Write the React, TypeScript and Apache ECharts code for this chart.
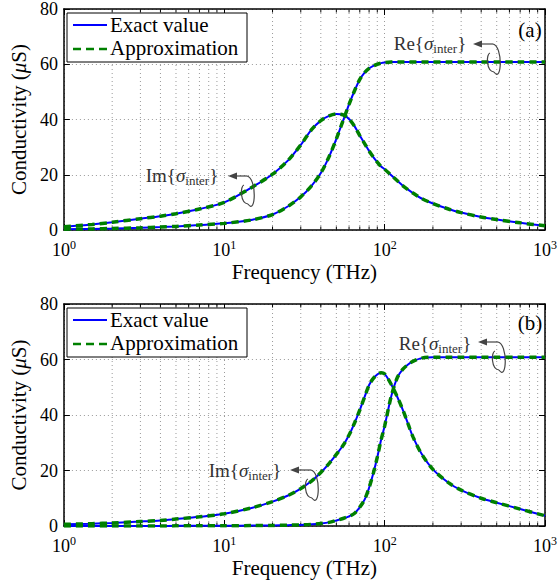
import React, { useEffect, useRef } from "react";
import * as echarts from "echarts";

const freqs = [1, 1.5, 2, 3, 4, 5, 7, 10, 15, 20, 25, 30, 35, 40, 45, 50, 55, 60, 65, 70, 75, 80, 85, 90, 95, 100, 110, 120, 130, 140, 150, 170, 200, 250, 300, 400, 500, 700, 1000];

// Panel (a)
const reA = [0.3, 0.4, 0.55, 0.8, 1.05, 1.3, 1.8, 2.4, 3.7, 5.6, 8.6, 12, 16, 20.6, 26.5, 33, 39.5, 45.5, 50.5, 54.5, 57, 58.5, 59.4, 60, 60.4, 60.6, 60.8, 60.8, 60.8, 60.8, 60.8, 60.8, 60.8, 60.8, 60.8, 60.8, 60.8, 60.8, 60.8];
const imA = [1.2, 2.0, 2.8, 4.1, 5.0, 5.9, 7.6, 10, 15.6, 20.2, 25.2, 30.8, 36.3, 39.6, 41.3, 42, 41.7, 40.2, 37.5, 34.2, 31.3, 28.6, 26.4, 24.6, 23, 22, 19.8, 17.8, 16, 14.6, 13.4, 11.4, 9.6, 7.6, 6.3, 4.7, 3.8, 2.6, 1.5];
// Panel (b)
const reB = [0, 0, 0, 0, 0, 0.05, 0.1, 0.1, 0.15, 0.2, 0.3, 0.4, 0.6, 0.9, 1.3, 2, 2.7, 3.5, 4.6, 6.8, 9.5, 13.8, 19, 24.8, 31, 36, 46.8, 53.5, 56.5, 58.2, 59.3, 60.5, 60.8, 60.8, 60.8, 60.8, 60.8, 60.8, 60.8];
const imB = [0.6, 0.85, 1.1, 1.6, 2.0, 2.5, 3.3, 4.4, 6.6, 8.8, 11, 13.5, 16.2, 19.3, 22.5, 25.8, 29, 32.8, 37.2, 41.8, 46.5, 50.8, 53.2, 54.6, 55.2, 54.8, 51, 46.5, 41.8, 36.8, 32.2, 26, 20.4, 15.6, 12.9, 10, 8.4, 6.1, 3.7];

// Approximation curves (visually coincide with exact values)
const reAapprox = reA;
const imAapprox = imA;
const reBapprox = reB;
const imBapprox = imB;

const minorFreqs = [2, 3, 4, 5, 6, 7, 8, 9, 20, 30, 40, 50, 60, 70, 80, 90, 200, 300, 400, 500, 600, 700, 800, 900];
const yTicks = { min: 0, max: 80, interval: 20 };
const legendNames = ["Exact value", "Approximation"];
const panelLabels = ["(a)", "(b)"];

const FONT = "Liberation Serif";
const BLUE = "#0000ff";
const GREEN = "#008000";
const GRIDC = "#9a9a9a";
const DASH = [7, 5];

function pair(ys: number[]) {
  return freqs.map((f, i) => [f, ys[i]]);
}

export default function App() {
  const ref = useRef<HTMLDivElement>(null);
  useEffect(() => {
    if (!ref.current) return;
    const chart = echarts.init(ref.current, undefined, { renderer: "svg" });

    const grids = [
      { left: 61, top: 8, width: 486, height: 222 },
      { left: 61, top: 304, width: 486, height: 222 },
    ];

    const xAxes: any[] = [];
    const yAxes: any[] = [];
    [0, 1].forEach((g) => {
      xAxes.push({
        type: "log",
        logBase: 10,
        gridIndex: g,
        min: 1,
        max: 1000,
        position: "bottom",
        axisLine: { show: true, onZero: false, lineStyle: { color: "#000", width: 1.5 } },
        axisTick: { show: true, inside: true, length: 6, lineStyle: { color: "#000" } },
        splitLine: { show: true, lineStyle: { color: GRIDC, type: [1, 3], width: 1 } },
        minorTick: { show: false },
        axisLabel: {
          color: "#000",
          fontFamily: FONT,
          fontSize: 18,
          lineHeight: 22,
          margin: 9,
          showMinLabel: true,
          showMaxLabel: true,
          formatter: (v: number) => "10{sup|" + Math.round(Math.log10(v)) + "}",
          rich: { sup: { fontSize: 12, fontFamily: FONT, color: "#000", verticalAlign: "top", lineHeight: 12 } },
        },
        name: "Frequency (THz)",
        nameLocation: "middle",
        nameGap: 27,
        nameTextStyle: { color: "#000", fontFamily: FONT, fontSize: 21 },
      });
      xAxes.push({
        type: "log",
        logBase: 10,
        gridIndex: g,
        min: 1,
        max: 1000,
        position: "top",
        axisLine: { show: true, onZero: false, lineStyle: { color: "#000", width: 1.5 } },
        axisTick: { show: true, inside: true, length: 6, lineStyle: { color: "#000" } },
        splitLine: { show: false },
        axisLabel: { show: false },
      });
      yAxes.push({
        type: "value",
        gridIndex: g,
        min: yTicks.min,
        max: yTicks.max,
        interval: yTicks.interval,
        position: "left",
        axisLine: { show: true, onZero: false, lineStyle: { color: "#000", width: 1.5 } },
        axisTick: { show: true, inside: true, length: 6, lineStyle: { color: "#000" } },
        splitLine: { show: true, lineStyle: { color: GRIDC, type: [1, 3], width: 1 } },
        axisLabel: { color: "#000", fontFamily: FONT, fontSize: 18, margin: 6 },
        name: "Conductivity ({i|μ}S)",
        nameLocation: "middle",
        nameRotate: 90,
        nameGap: 29,
        nameTextStyle: {
          color: "#000",
          fontFamily: FONT,
          fontSize: 21,
          rich: { i: { fontStyle: "italic", fontFamily: FONT, fontSize: 21, color: "#000" } },
        },
      });
      yAxes.push({
        type: "value",
        gridIndex: g,
        min: yTicks.min,
        max: yTicks.max,
        interval: yTicks.interval,
        position: "right",
        axisLine: { show: true, onZero: false, lineStyle: { color: "#000", width: 1.5 } },
        axisTick: { show: true, inside: true, length: 6, lineStyle: { color: "#000" } },
        splitLine: { show: false },
        axisLabel: { show: false },
      });
    });

    const minorSeries = (g: number) => ({
      type: "custom",
      name: "minor" + g,
      xAxisIndex: g * 2,
      yAxisIndex: g * 2,
      z: 1,
      silent: true,
      encode: { x: 0, y: 1 },
      data: minorFreqs.map((m) => [m, 0]),
      renderItem: (_p: any, api: any) => {
        const x = api.value(0);
        const b = api.coord([x, yTicks.min]);
        const t = api.coord([x, yTicks.max]);
        return {
          type: "group",
          children: [
            { type: "line", shape: { x1: b[0], y1: b[1], x2: t[0], y2: t[1] }, style: { stroke: GRIDC, lineWidth: 1, lineDash: [1, 3] } },
            { type: "line", shape: { x1: b[0], y1: b[1], x2: b[0], y2: b[1] - 3.5 }, style: { stroke: "#000", lineWidth: 1 } },
            { type: "line", shape: { x1: t[0], y1: t[1], x2: t[0], y2: t[1] + 3.5 }, style: { stroke: "#000", lineWidth: 1 } },
          ],
        };
      },
    });

    const exact = (g: number, ys: number[]) => ({
      type: "line",
      name: legendNames[0],
      xAxisIndex: g * 2,
      yAxisIndex: g * 2,
      data: pair(ys),
      symbol: "none",
      smooth: 0.3,
      z: 3,
      lineStyle: { color: BLUE, width: 2 },
      itemStyle: { color: BLUE },
    });
    const approx = (g: number, ys: number[]) => ({
      type: "line",
      name: legendNames[1],
      xAxisIndex: g * 2,
      yAxisIndex: g * 2,
      data: pair(ys),
      symbol: "none",
      smooth: 0.3,
      z: 4,
      lineStyle: { color: GREEN, width: 3.5, type: DASH },
      itemStyle: { color: GREEN },
    });

    // legend box drawn as graphic (box, sample lines and real text)
    const legendBox = (top: number) => [
      { type: "rect", z: 90, shape: { x: 67, y: top, width: 180, height: 49 }, style: { fill: "#fff", stroke: "#000", lineWidth: 1 } },
      { type: "line", z: 91, shape: { x1: 73, y1: top + 12, x2: 107, y2: top + 12 }, style: { stroke: BLUE, lineWidth: 2 } },
      { type: "line", z: 91, shape: { x1: 73, y1: top + 36, x2: 107, y2: top + 36 }, style: { stroke: GREEN, lineWidth: 2.5, lineDash: [8, 5] } },
      { type: "text", z: 91, x: 110, y: top + 12, style: { text: legendNames[0], fill: "#000", fontFamily: FONT, fontSize: 21, align: "left", verticalAlign: "middle" } },
      { type: "text", z: 91, x: 110, y: top + 35, style: { text: legendNames[1], fill: "#000", fontFamily: FONT, fontSize: 21, align: "left", verticalAlign: "middle" } },
    ];

    const richAnn = {
      s: { fontStyle: "italic", fontSize: 19, fontFamily: FONT, fill: "#333", lineHeight: 24 },
      sub: { fontSize: 13, fontFamily: FONT, fill: "#333", verticalAlign: "bottom", lineHeight: 13 },
    };
    const annotation = (label: string, tx: number, ty: number, tipX: number, ay: number, lcx: number, lcy: number) => [
      {
        type: "text",
        x: tx,
        y: ty,
        z: 100,
        style: {
          text: label + "{{s|σ}{sub|inter}}",
          fill: "#333",
          fontFamily: FONT,
          fontSize: 19,
          lineHeight: 24,
          align: "center",
          verticalAlign: "middle",
          rich: richAnn,
        },
      },
      {
        type: "line",
        z: 100,
        shape: { x1: tipX + 6, y1: ay, x2: lcx - 1, y2: ay },
        style: { stroke: "#444", lineWidth: 1.2 },
      },
      {
        type: "polygon",
        z: 100,
        shape: { points: [[tipX, ay], [tipX + 9, ay - 3.5], [tipX + 9, ay + 3.5]] },
        style: { fill: "#444" },
      },
      {
        type: "bezierCurve",
        z: 100,
        shape: { x1: lcx - 1, y1: ay, cpx1: lcx + 9, cpy1: ay + 2, cpx2: lcx + 8, cpy2: lcy + 2 * (lcy - ay) - 2, x2: lcx, y2: lcy + (lcy - ay) },
        style: { stroke: "#444", lineWidth: 1.2, fill: null },
      },
      {
        type: "bezierCurve",
        z: 100,
        shape: { x1: lcx, y1: lcy + (lcy - ay), cpx1: lcx - 8, cpy1: lcy + (lcy - ay) - 1, cpx2: lcx - 8, cpy2: lcy - 4, x2: lcx - 4, y2: lcy - 5 },
        style: { stroke: "#444", lineWidth: 1.2, fill: null },
      },
    ];

    const graphic: any[] = [
      ...legendBox(13),
      ...legendBox(308),
      ...annotation("Re", 430, 43, 473, 44, 494, 58),
      ...annotation("Im", 182, 175, 228, 176, 248, 190),
      ...annotation("Re", 435, 343, 478, 342, 499, 356),
      ...annotation("Im", 245, 470, 290, 470, 312, 484),
      { type: "text", x: 530, y: 30, z: 100, style: { text: panelLabels[0], fill: "#000", fontFamily: FONT, fontSize: 21, align: "center", verticalAlign: "middle" } },
      { type: "text", x: 530, y: 323, z: 100, style: { text: panelLabels[1], fill: "#000", fontFamily: FONT, fontSize: 21, align: "center", verticalAlign: "middle" } },
    ];

    chart.setOption({
      animation: false,
      backgroundColor: "#fff",
      grid: grids,
      xAxis: xAxes,
      yAxis: yAxes,
      series: [
        minorSeries(0),
        minorSeries(1),
        exact(0, reA),
        exact(0, imA),
        approx(0, reAapprox),
        approx(0, imAapprox),
        exact(1, reB),
        exact(1, imB),
        approx(1, reBapprox),
        approx(1, imBapprox),
      ],
      graphic,
    });
    return () => chart.dispose();
  }, []);
  return <div ref={ref} style={{ position: "fixed", left: 0, top: 0, width: 560, height: 580 }} />;
}
